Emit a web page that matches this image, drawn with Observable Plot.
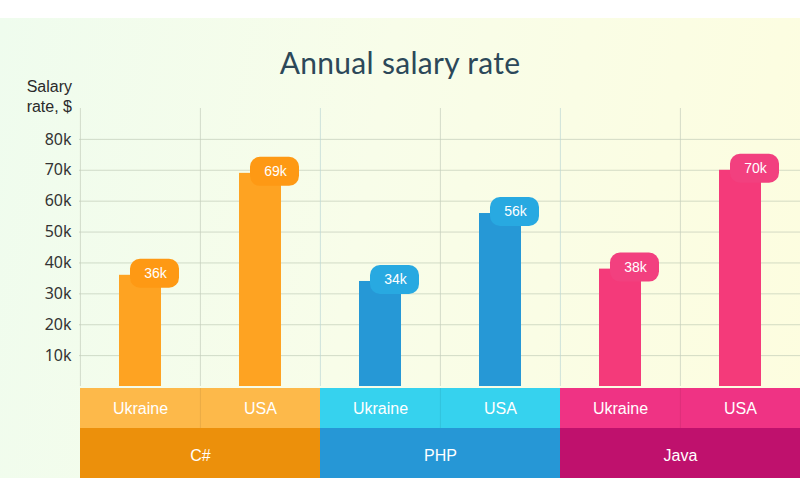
<!DOCTYPE html>
<html>
<head>
<meta charset="utf-8">
<script src="https://cdn.jsdelivr.net/npm/d3@7"></script>
<script src="https://cdn.jsdelivr.net/npm/@observablehq/plot@0.6"></script>
<style>
  html, body { margin: 0; padding: 0; background: #fff; }
  #wrap { position: relative; width: 800px; height: 499px; overflow: hidden; background: #fff; font-family: "Liberation Sans", Arial, sans-serif; }
  #bg { position: absolute; left: 0; top: 18px; width: 800px; height: 460px;
        background: linear-gradient(100deg, #effcee 0%, #f8fde9 45%, #fdfddf 100%); }
  #title { position: absolute; left: 0; width: 800px; top: 44px; text-align: center;
           font-family: Lato, "Open Sans", sans-serif; font-size: 30px; color: #2c4859; letter-spacing: 0.3px; }
  #ylabel { position: absolute; right: 728px; top: 77px; text-align: right; font-size: 16px; line-height: 20px; color: #2a2a2a; }
  .layer { position: absolute; left: 0; }
  svg { overflow: visible; }
</style>
</head>
<body>
<div id="wrap">
  <div id="bg"></div>
  <div id="title">Annual salary rate</div>
  <div id="ylabel">Salary<br>rate, $</div>
  <div id="main" class="layer" style="top:0"></div>
  <div id="row1" class="layer" style="top:388px"></div>
  <div id="row2" class="layer" style="top:428px"></div>
</div>
<script>
// ---- data ----
const languages = ["C#", "PHP", "Java"];
const countries = ["Ukraine", "USA"];
const salaries = [36, 69, 34, 56, 38, 70]; // thousands $, order: C# UA, C# US, PHP UA, PHP US, Java UA, Java US
const yTicks = [10, 20, 30, 40, 50, 60, 70, 80];

// colours per language
const barColors = { "C#": "#fea322", "PHP": "#2698d6", "Java": "#f43a7a" };
const badgeColors = { "C#": "#fe9914", "PHP": "#28a9e1", "Java": "#f2407f" };
const subColors = { "C#": "#fdb94a", "PHP": "#36d2ee", "Java": "#ef3384" };
const mainColors = { "C#": "#ec900b", "PHP": "#2697d6", "Java": "#bf116d" };

const rows = [];
languages.forEach((lang, i) => countries.forEach((c, j) => {
  rows.push({ lang, country: c, key: lang + "|" + c, value: salaries[i * 2 + j] });
}));
const keys = rows.map(d => d.key);

const W = 800, ML = 79;

const main = Plot.plot({
  width: W, height: 388,
  marginLeft: ML, marginRight: 0, marginTop: 108, marginBottom: 2,
  x: { type: "band", domain: keys, padding: 0, axis: null },
  y: { domain: [0, 90], axis: null },
  style: { background: "transparent", overflow: "visible" },
  marks: [
    Plot.gridY(yTicks, { stroke: "#b9c4b0", strokeOpacity: 0.6, strokeWidth: 1 }),
    Plot.ruleX(keys, { x: d => d, dx: -60.1, y1: 0, y2: 90, stroke: (d) => d.endsWith("Ukraine") && !d.startsWith("C#") ? "#bcd9d6" : "#c5cebd", strokeOpacity: 0.7 }),
    Plot.axisY(yTicks, { tickFormat: d => d + "k", tickSize: 0, tickPadding: 8, fontSize: 16, fill: "#333", label: null }),
    Plot.barY(rows, { x: "key", y: "value", fill: d => barColors[d.lang], insetLeft: 39, insetRight: 39 }),
    Plot.barY(rows, { x: "key", y1: "value", y2: "value", fill: d => badgeColors[d.lang],
      insetLeft: 50, insetRight: 21, insetTop: -16, insetBottom: -13, rx: 10,
      style: "filter: drop-shadow(0px 1px 3px rgba(90,40,20,0.35))" }),
    Plot.text(rows, { x: "key", y: "value", text: d => d.value + "k", dx: 15, dy: -2, fill: "white", fontSize: 14, fontFamily: "Liberation Sans, Arial, sans-serif" })
  ]
});
document.getElementById("main").appendChild(main);

const row1 = Plot.plot({
  width: W, height: 40, marginLeft: ML, marginRight: 0, marginTop: 0, marginBottom: 0,
  x: { type: "band", domain: keys, padding: 0, axis: null },
  style: { background: "transparent" },
  marks: [
    Plot.cell(rows, { x: "key", fill: d => subColors[d.lang], inset: 0 }),
    Plot.ruleX(rows.filter(d => d.country === "USA"), { x: "key", dx: -60.1, stroke: "rgba(0,0,0,0.08)" }),
    Plot.text(rows, { x: "key", text: "country", fill: "white", fontSize: 16, frameAnchor: "middle", fontFamily: "Liberation Sans Narrow, Liberation Sans, sans-serif" })
  ]
});
document.getElementById("row1").appendChild(row1);

const row2 = Plot.plot({
  width: W, height: 50, marginLeft: ML, marginRight: 0, marginTop: 0, marginBottom: 0,
  x: { type: "band", domain: languages, padding: 0, axis: null },
  style: { background: "transparent" },
  marks: [
    Plot.cell(languages, { x: d => d, fill: d => mainColors[d], inset: 0 }),
    Plot.text(languages, { x: d => d, text: d => d, fill: "white", fontSize: 16, dy: 2, frameAnchor: "middle", style: "letter-spacing: 1.5px", fontFamily: "Liberation Sans Narrow, Liberation Sans, sans-serif" })
  ]
});
document.getElementById("row2").appendChild(row2);
</script>
</body>
</html>
